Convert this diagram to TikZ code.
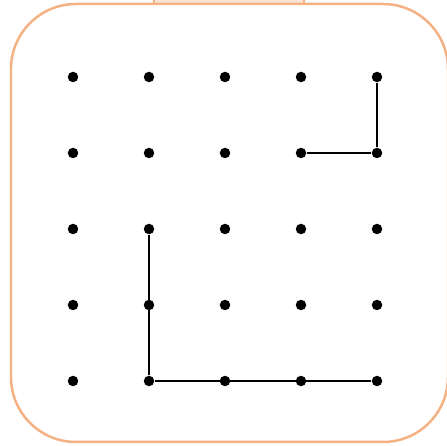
\documentclass[tikz,border=0pt]{standalone}
\usepackage{tikz}
\usepackage{xcolor}
\usetikzlibrary{positioning}
\definecolor{frameorange}{HTML}{F4B183}

\begin{document}
\begin{tikzpicture}[x=0.02cm, y=-0.02cm]
        \tikzset{dot/.style={circle, fill=black, inner sep=0pt, minimum size=0.21cm}}
        \useasboundingbox (0,0) rectangle (447,446);
        % frame
        \draw[frameorange, fill=frameorange!35, line width=0.045cm] (154,-10) rectangle (304,4);
        \draw[frameorange, line width=0.05cm, rounded corners=1.3cm] (11,4) rectangle (448,442);
        % grid of dots
        \foreach \i in {1,...,5}
            \foreach \j in {1,...,5}
                \node[dot] (d\i\j) at ({73+76*(\i-1)}, {77+76*(\j-1)}) {};
        \draw[line width=0.7pt] (d42) -- (d52) -- (d51);
        \draw[line width=0.7pt] (d23) -- (d25) -- (d55);
    \end{tikzpicture}
\end{document}
